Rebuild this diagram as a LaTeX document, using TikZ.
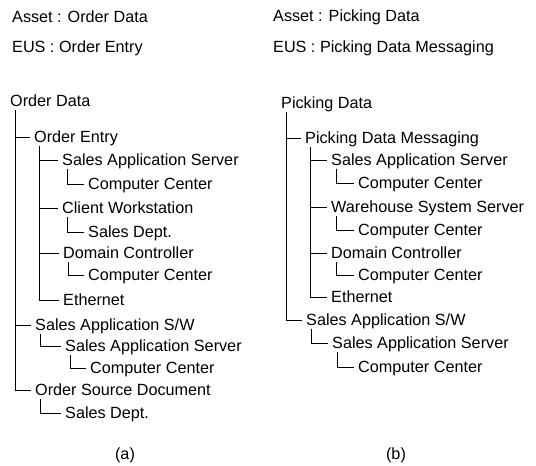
\documentclass[tikz,border=0pt]{standalone}
\usepackage{fontspec}
\setmainfont{Liberation Sans}
\begin{document}
\begin{tikzpicture}[x=1pt,y=-1pt,
  lbl/.style={anchor=west,inner sep=0pt,text height=11.7pt,text depth=0pt,font=\fontsize{16.2}{19}\selectfont},
  sublabel/.style={anchor=center,inner sep=0pt,font=\fontsize{16.2}{19}\selectfont},
  tree/.style={draw=black,line width=0.9pt}]
\useasboundingbox (0,0) rectangle (536,466);
% headers
\node[lbl] (t1a) at (12,17) {Asset : Order Data};
\node[lbl] (t2a) at (12,47) {EUS : Order Entry};
\node[lbl] (t1b) at (273,16) {Asset : Picking Data};
\node[lbl] (t2b) at (273,47) {EUS : Picking Data Messaging};
% left tree
\node[lbl] (a0) at (10,101) {Order Data};
\node[lbl] (a1) at (34,137) {Order Entry};
\node[lbl] (a11) at (62,160) {Sales Application Server};
\node[lbl] (a111) at (88,184) {Computer Center};
\node[lbl] (a12) at (62,208) {Client Workstation};
\node[lbl] (a121) at (88,232) {Sales Dept.};
\node[lbl] (a13) at (63,253) {Domain Controller};
\node[lbl] (a131) at (88,275) {Computer Center};
\node[lbl] (a14) at (63,300) {Ethernet};
\node[lbl] (a2) at (35,325) {Sales Application S/W};
\node[lbl] (a21) at (65,346) {Sales Application Server};
\node[lbl] (a211) at (90,368) {Computer Center};
\node[lbl] (a3) at (35,390) {Order Source Document};
\node[lbl] (a31) at (65,413) {Sales Dept.};
\node[sublabel] (la) at (125,455) {(a)};
% right tree
\node[lbl] (b0) at (281,103) {Picking Data};
\node[lbl] (b1) at (305,138) {Picking Data Messaging};
\node[lbl] (b11) at (331,160) {Sales Application Server};
\node[lbl] (b111) at (358,183) {Computer Center};
\node[lbl] (b12) at (331,207) {Warehouse System Server};
\node[lbl] (b121) at (358,230) {Computer Center};
\node[lbl] (b13) at (331,253) {Domain Controller};
\node[lbl] (b131) at (358,275) {Computer Center};
\node[lbl] (b14) at (331,297) {Ethernet};
\node[lbl] (b2) at (306,320) {Sales Application S/W};
\node[lbl] (b21) at (332,343) {Sales Application Server};
\node[lbl] (b211) at (358,367) {Computer Center};
\node[sublabel] (lb) at (396,455) {(b)};
% connectors left
\foreach \p/\c in {a0/a1,a0/a2,a0/a3,a1/a11,a1/a12,a1/a13,a1/a14,a11/a111,a12/a121,a13/a131,a2/a21,a21/a211,a3/a31}
  \draw[tree] ([xshift=5pt,yshift=-3pt]\p.south west) |- ([xshift=-4pt]\c.west);
% connectors right
\foreach \p/\c in {b0/b1,b0/b2,b1/b11,b1/b12,b1/b13,b1/b14,b11/b111,b12/b121,b13/b131,b2/b21,b21/b211}
  \draw[tree] ([xshift=5pt,yshift=-3pt]\p.south west) |- ([xshift=-4pt]\c.west);
\end{tikzpicture}
\end{document}
